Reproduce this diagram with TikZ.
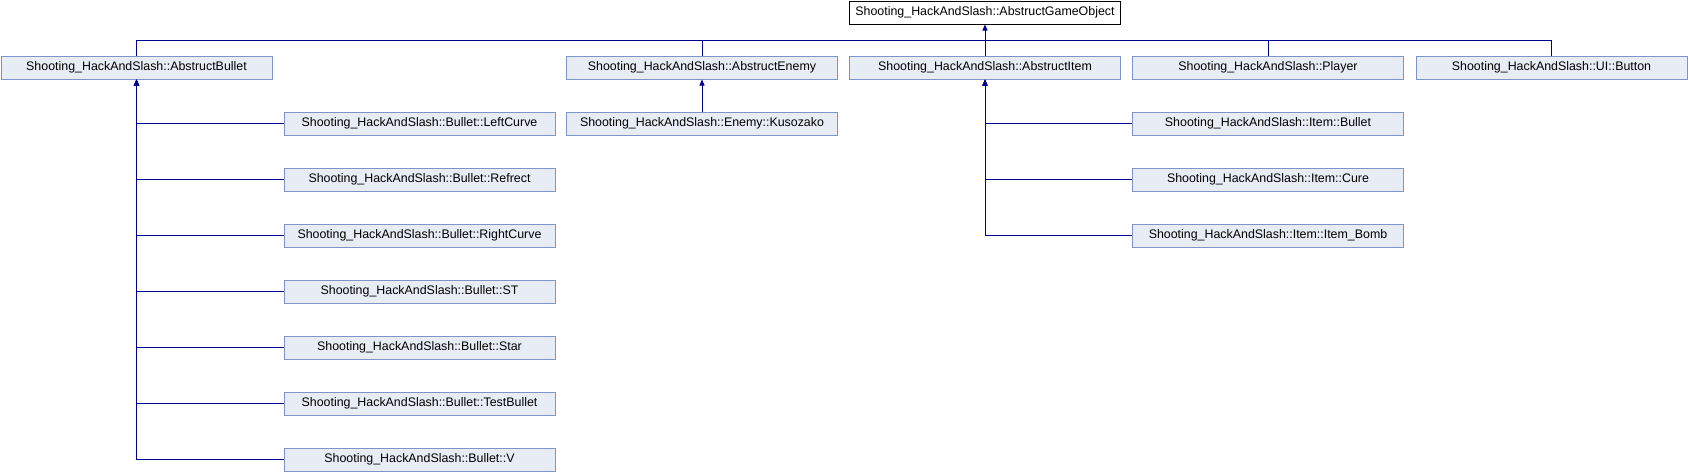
\documentclass[tikz,border=0pt]{standalone}
\usepackage{fontspec}
\setmainfont{Liberation Sans}
\usetikzlibrary{arrows.meta}
\definecolor{boxfill}{HTML}{E8ECF5}
\definecolor{boxline}{HTML}{7D93C9}
\definecolor{edgecol}{HTML}{000090}
\tikzset{
  cls/.style={draw=boxline, fill=boxfill, line width=1pt, minimum width=271pt, minimum height=23pt, inner sep=0pt, font=\fontsize{12.4}{14}\selectfont},
  topcls/.style={cls, draw=black, fill=white},
  edge/.style={draw=edgecol, line width=1pt},
  inh/.style={edge, -{Triangle[width=5pt,length=6pt]}}
}
\begin{document}
\begin{tikzpicture}[x=1pt,y=-1pt]
\useasboundingbox (0,0) rectangle (1688,472);
\node[topcls] (top) at (985,12.5) {Shooting\_HackAndSlash::AbstructGameObject};
\node[cls] (bullet) at (136.5,67.5) {Shooting\_HackAndSlash::AbstructBullet};
\node[cls] (enemy) at (702,67.5) {Shooting\_HackAndSlash::AbstructEnemy};
\node[cls] (item) at (985,67.5) {Shooting\_HackAndSlash::AbstructItem};
\node[cls] (player) at (1268,67.5) {Shooting\_HackAndSlash::Player};
\node[cls] (button) at (1551.5,67.5) {Shooting\_HackAndSlash::UI::Button};
\node[cls] (kuso) at (702,123.5) {Shooting\_HackAndSlash::Enemy::Kusozako};
\node[cls] (b1) at (419.5,123.5) {Shooting\_HackAndSlash::Bullet::LeftCurve};
\node[cls] (b2) at (419.5,179.5) {Shooting\_HackAndSlash::Bullet::Refrect};
\node[cls] (b3) at (419.5,235.5) {Shooting\_HackAndSlash::Bullet::RightCurve};
\node[cls] (b4) at (419.5,291.5) {Shooting\_HackAndSlash::Bullet::ST};
\node[cls] (b5) at (419.5,347.5) {Shooting\_HackAndSlash::Bullet::Star};
\node[cls] (b6) at (419.5,403.5) {Shooting\_HackAndSlash::Bullet::TestBullet};
\node[cls] (b7) at (419.5,459.5) {Shooting\_HackAndSlash::Bullet::V};
\node[cls] (i1) at (1268,123.5) {Shooting\_HackAndSlash::Item::Bullet};
\node[cls] (i2) at (1268,179.5) {Shooting\_HackAndSlash::Item::Cure};
\node[cls] (i3) at (1268,235.5) {Shooting\_HackAndSlash::Item::Item\_Bomb};
\coordinate (bus) at (985,40);
\draw[inh] (bus) -- (top.south);
\foreach \n in {bullet,enemy,item,player,button} \draw[edge] (\n.north) |- (bus);
\foreach \n in {b1,b2,b3,b4,b5,b6,b7} \draw[inh] (\n.west) -| (bullet.south);
\foreach \n in {i1,i2,i3} \draw[inh] (\n.west) -| (item.south);
\draw[inh] (kuso.north) -- (enemy.south);
\end{tikzpicture}
\end{document}
